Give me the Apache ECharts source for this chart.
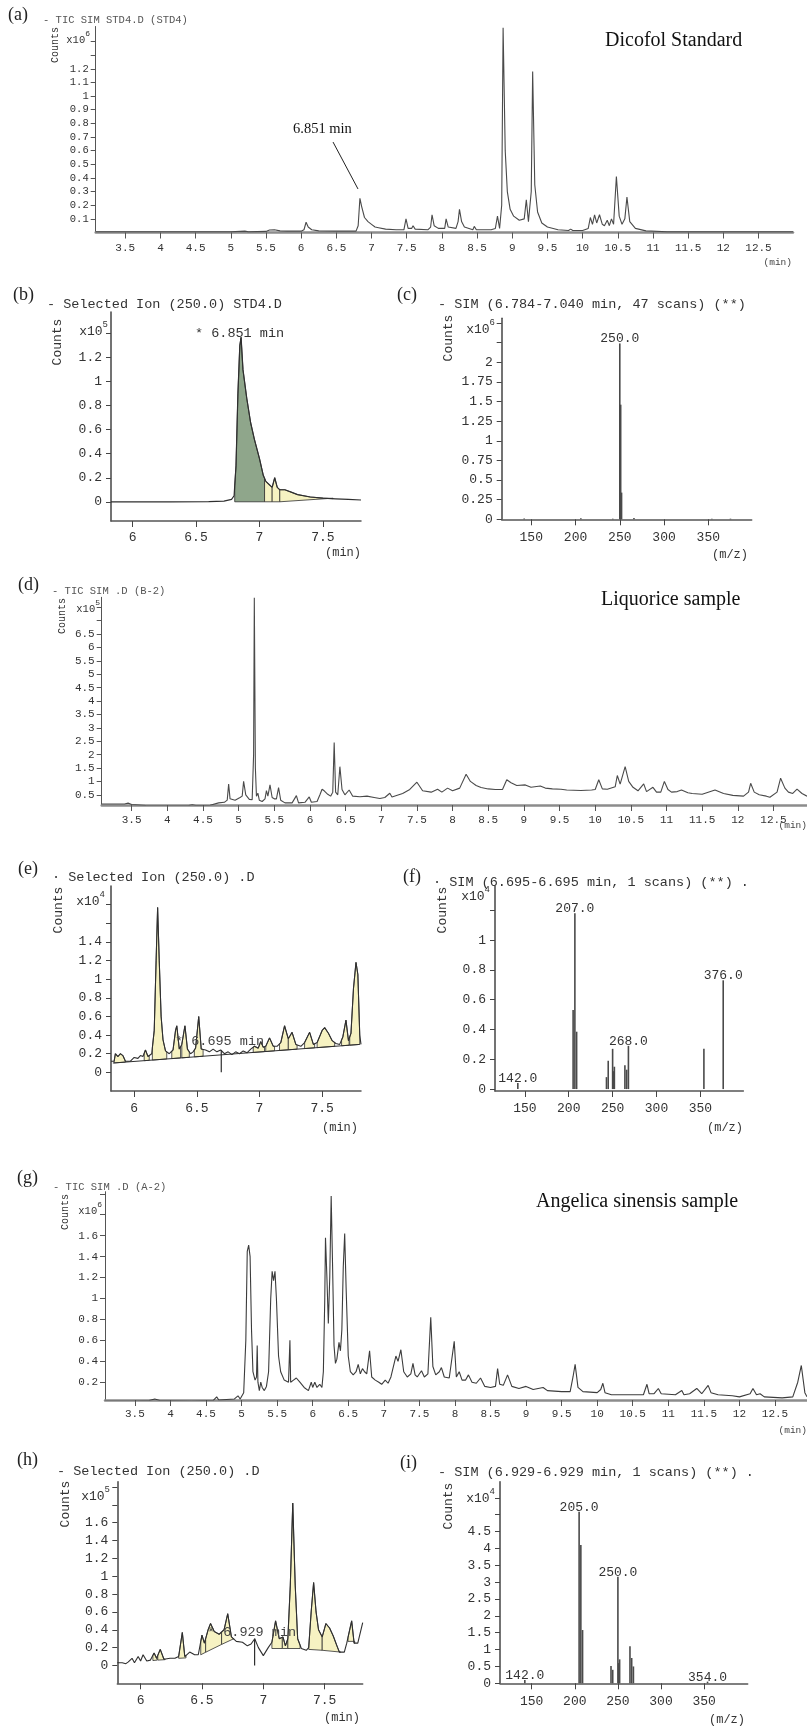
<!DOCTYPE html>
<html><head><meta charset="utf-8">
<script src="https://cdn.jsdelivr.net/npm/echarts@6/dist/echarts.min.js"></script>
<style>html,body{margin:0;padding:0;background:#fff}#c{width:807px;height:1730px}</style>
</head><body><div id="c"></div>
<script>
// ---------- DATA ----------
// (a) TIC of Dicofol standard, counts x10^6
const aTime = [3.08,4.5,5.0,5.2,5.25,5.5,5.55,5.62,5.7,5.8,6.0,6.04,6.07,6.1,6.15,6.25,6.5,6.78,6.81,6.835,6.86,6.9,6.95,7.0,7.05,7.07,7.1,7.2,7.35,7.46,7.49,7.52,7.57,7.59,7.62,7.8,7.84,7.86,7.89,7.95,8.04,8.06,8.09,8.2,8.23,8.25,8.28,8.32,8.44,8.46,8.49,8.7,8.76,8.79,8.82,8.85,8.87,8.9,8.93,8.97,9.02,9.1,9.17,9.2,9.23,9.27,9.29,9.32,9.36,9.42,9.5,9.65,9.8,9.83,9.86,10.0,10.08,10.11,10.14,10.17,10.2,10.24,10.28,10.31,10.35,10.38,10.41,10.44,10.48,10.52,10.56,10.6,10.63,10.67,10.75,10.9,11.2,12.99];
const aCounts = [0.005,0.005,0.006,0.01,0.006,0.008,0.018,0.02,0.012,0.01,0.01,0.02,0.075,0.04,0.02,0.012,0.01,0.01,0.05,0.25,0.19,0.11,0.08,0.06,0.04,0.048,0.035,0.025,0.02,0.02,0.1,0.03,0.03,0.05,0.025,0.02,0.04,0.13,0.05,0.03,0.03,0.1,0.04,0.03,0.08,0.17,0.08,0.04,0.02,0.045,0.02,0.02,0.03,0.12,0.03,0.2,1.5,0.6,0.3,0.17,0.12,0.09,0.1,0.24,0.08,0.3,1.18,0.35,0.15,0.07,0.04,0.02,0.015,0.025,0.015,0.015,0.03,0.11,0.06,0.13,0.07,0.13,0.06,0.05,0.09,0.05,0.1,0.06,0.41,0.12,0.06,0.1,0.26,0.08,0.03,0.012,0.006,0.005];
const aLeader = [[6.453,0.663],[6.808,0.319]];

// (b) Selected ion 250 of standard, counts x10^5
const bTime = [5.83,6.3,6.6,6.72,6.78,6.8,6.815,6.83,6.845,6.855,6.87,6.9,6.93,6.96,7.0,7.03,7.05,7.08,7.1,7.12,7.14,7.16,7.2,7.25,7.3,7.4,7.5,7.6,7.7,7.8];
const bCounts = [0.0,0.0,0.002,0.006,0.02,0.05,0.3,0.9,1.3,1.37,1.1,0.86,0.66,0.52,0.36,0.22,0.17,0.14,0.12,0.2,0.12,0.1,0.1,0.08,0.06,0.04,0.03,0.025,0.02,0.015];
const bShadeGreen = [[6.805,7.04,0,0]];
const bShadeYellow = [[7.04,7.1,0,0],[7.1,7.16,0,0],[7.16,7.58,0,0.03]];

// (c) SIM spectrum of standard, counts x10^6
const cMz = [142,206,242,250,251,252,266,354,375];
const cCounts = [0.01,0.012,0.008,2.24,1.46,0.34,0.015,0.008,0.008];
const cLabelMz = [250];

// (d) TIC of liquorice sample, counts x10^5
const dTime = [3.08,3.4,3.45,3.5,3.7,4.0,4.3,4.35,4.4,4.6,4.72,4.8,4.84,4.86,4.88,4.95,5.02,5.05,5.07,5.1,5.15,5.19,5.21,5.22,5.235,5.25,5.27,5.29,5.33,5.37,5.39,5.41,5.44,5.47,5.5,5.53,5.56,5.59,5.65,5.75,5.81,5.84,5.93,5.99,6.02,6.1,6.14,6.17,6.2,6.22,6.25,6.29,6.32,6.34,6.36,6.39,6.42,6.45,6.49,6.55,6.6,6.7,6.8,6.9,6.98,7.05,7.12,7.15,7.3,7.4,7.5,7.58,7.7,7.79,7.85,7.93,8.0,8.1,8.19,8.25,8.33,8.4,8.5,8.6,8.7,8.76,8.82,8.9,9.02,9.1,9.23,9.3,9.4,9.52,9.6,9.8,9.95,10.0,10.05,10.1,10.17,10.28,10.31,10.35,10.42,10.47,10.53,10.6,10.68,10.72,10.81,10.86,10.92,10.97,11.02,11.07,11.15,11.21,11.3,11.36,11.5,11.68,11.8,11.93,12.08,12.15,12.18,12.23,12.3,12.4,12.45,12.55,12.6,12.66,12.71,12.77,12.83,12.9,12.97];
const dCounts = [0.16,0.16,0.19,0.14,0.1,0.09,0.1,0.13,0.1,0.11,0.2,0.22,0.3,0.9,0.35,0.3,0.4,0.45,1.0,0.5,0.33,0.32,2.0,7.85,1.5,0.45,0.56,0.3,0.25,0.35,0.66,0.45,0.87,0.4,0.35,0.35,0.77,0.3,0.2,0.2,0.47,0.2,0.22,0.42,0.22,0.25,0.5,0.71,0.65,0.6,0.52,0.45,0.6,2.45,0.6,0.5,1.55,0.7,0.5,0.68,0.45,0.43,0.45,0.4,0.36,0.4,0.56,0.42,0.55,0.7,0.97,0.65,0.6,0.71,0.6,0.75,0.65,0.75,1.27,1.0,0.85,0.77,0.72,0.7,0.7,1.06,0.95,0.85,0.87,0.78,0.83,0.75,0.72,0.71,0.68,0.66,0.68,0.7,1.06,0.72,0.71,0.8,1.22,0.9,1.55,1.0,0.78,0.65,0.91,0.62,0.78,0.6,0.6,1.0,0.7,0.6,0.62,0.68,0.58,0.55,0.52,0.68,0.55,0.48,0.45,0.6,0.93,0.6,0.5,0.45,0.41,0.6,1.12,0.75,0.6,0.55,0.71,0.55,0.45];

// (e) Selected ion 250 of liquorice sample, counts x10^4
const eTime = [5.815,5.84,5.85,5.87,5.89,5.91,5.93,5.97,6.0,6.03,6.05,6.07,6.09,6.11,6.14,6.16,6.175,6.187,6.2,6.215,6.23,6.25,6.28,6.31,6.33,6.34,6.36,6.38,6.405,6.425,6.45,6.47,6.49,6.515,6.535,6.57,6.6,6.63,6.66,6.69,6.72,6.75,6.78,6.81,6.84,6.87,6.9,6.93,6.96,6.99,7.01,7.03,7.05,7.08,7.11,7.14,7.17,7.2,7.23,7.26,7.29,7.33,7.36,7.4,7.43,7.46,7.5,7.52,7.55,7.58,7.61,7.64,7.665,7.69,7.71,7.73,7.75,7.77,7.785,7.8,7.81];
const eCounts = [0.12,0.12,0.2,0.17,0.2,0.18,0.12,0.12,0.16,0.15,0.18,0.17,0.24,0.17,0.2,0.45,1.2,1.77,1.2,0.6,0.35,0.23,0.2,0.24,0.45,0.5,0.25,0.3,0.5,0.25,0.2,0.22,0.26,0.6,0.25,0.24,0.22,0.25,0.22,0.24,0.2,0.22,0.19,0.22,0.2,0.23,0.21,0.25,0.28,0.26,0.33,0.27,0.28,0.37,0.28,0.28,0.32,0.5,0.36,0.43,0.3,0.28,0.32,0.43,0.3,0.32,0.45,0.48,0.42,0.34,0.31,0.3,0.38,0.56,0.34,0.42,0.9,1.18,1.05,0.4,0.3];
const eBaseTime = [5.83,7.8];
const eBaseCounts = [0.10,0.30];
const eShadeRanges = [[5.84,5.93],[6.08,6.12],[6.145,6.26],[6.3,6.37],[6.38,6.44],[6.48,6.55],[6.95,7.04],[7.05,7.12],[7.16,7.23],[7.23,7.3],[7.36,7.44],[7.46,7.6],[7.655,7.715],[7.72,7.8]];
const eMarker = [[6.695,0.24],[6.695,0.0]];

// (f) SIM spectrum at 6.695 min, counts x10^4
const fMz = [142,205,207,209,243,245,250,251,252,264,266,268,354,376];
const fCounts = [0.04,0.53,1.18,0.385,0.08,0.19,0.27,0.12,0.15,0.16,0.13,0.29,0.27,0.73];
const fLabelMz = [142,207,268,376];

// (g) TIC of Angelica sinensis sample, counts x10^6
const gTime = [3.08,3.5,3.7,3.78,3.85,4.3,4.6,4.65,4.68,4.9,4.95,4.98,5.03,5.06,5.08,5.1,5.12,5.14,5.16,5.19,5.21,5.22,5.23,5.25,5.27,5.29,5.32,5.35,5.38,5.41,5.43,5.45,5.47,5.49,5.52,5.55,5.6,5.66,5.68,5.69,5.73,5.77,5.82,5.88,5.94,5.98,6.0,6.03,6.06,6.1,6.13,6.15,6.17,6.18,6.2,6.22,6.24,6.26,6.28,6.3,6.32,6.34,6.37,6.39,6.41,6.43,6.45,6.47,6.5,6.53,6.57,6.61,6.64,6.67,6.7,6.73,6.76,6.8,6.83,6.88,6.93,6.97,7.02,7.06,7.1,7.17,7.2,7.24,7.28,7.33,7.38,7.41,7.44,7.47,7.53,7.57,7.62,7.66,7.69,7.73,7.78,7.81,7.85,7.92,7.99,8.02,8.06,8.1,8.15,8.19,8.24,8.3,8.36,8.42,8.5,8.57,8.6,8.63,8.68,8.74,8.8,8.9,9.0,9.1,9.24,9.3,9.5,9.62,9.66,9.69,9.73,9.8,10.0,10.05,10.08,10.11,10.2,10.5,10.65,10.7,10.73,10.8,10.86,10.9,11.1,11.19,11.22,11.3,11.4,11.47,11.56,11.6,11.7,11.9,12.0,12.15,12.19,12.24,12.29,12.35,12.6,12.75,12.82,12.87,12.92,12.95];
const gCounts = [0.02,0.02,0.025,0.04,0.025,0.02,0.025,0.06,0.03,0.04,0.07,0.04,0.1,0.6,1.45,1.51,1.4,0.7,0.3,0.22,0.25,0.55,0.2,0.12,0.2,0.15,0.12,0.16,0.3,1.0,1.26,1.17,1.26,1.0,0.45,0.3,0.22,0.2,0.6,0.2,0.22,0.24,0.2,0.15,0.12,0.2,0.15,0.2,0.15,0.18,0.15,0.3,1.0,1.58,1.2,0.76,1.2,1.98,1.3,0.55,0.38,0.42,0.58,0.5,0.7,1.3,1.62,1.1,0.45,0.3,0.27,0.3,0.37,0.28,0.33,0.3,0.28,0.5,0.25,0.22,0.2,0.18,0.22,0.19,0.25,0.45,0.4,0.51,0.3,0.25,0.28,0.38,0.27,0.25,0.31,0.25,0.28,0.82,0.35,0.27,0.3,0.34,0.25,0.24,0.59,0.25,0.3,0.22,0.22,0.27,0.2,0.19,0.24,0.16,0.15,0.16,0.33,0.18,0.17,0.27,0.16,0.14,0.16,0.13,0.15,0.12,0.11,0.11,0.25,0.37,0.15,0.11,0.1,0.13,0.19,0.1,0.08,0.08,0.08,0.18,0.09,0.09,0.14,0.09,0.08,0.12,0.08,0.09,0.14,0.09,0.17,0.1,0.08,0.07,0.06,0.09,0.14,0.08,0.09,0.06,0.05,0.06,0.2,0.36,0.1,0.06];

// (h) Selected ion 250 of Angelica sinensis sample, counts x10^5
const hTime = [5.81,5.85,5.88,5.9,5.93,5.95,5.98,6.0,6.02,6.05,6.08,6.11,6.13,6.16,6.19,6.24,6.28,6.31,6.34,6.36,6.4,6.44,6.47,6.5,6.52,6.55,6.57,6.6,6.64,6.68,6.71,6.74,6.78,6.83,6.87,6.9,6.93,6.96,7.0,7.04,7.07,7.1,7.13,7.16,7.18,7.2,7.22,7.24,7.26,7.28,7.31,7.35,7.37,7.39,7.41,7.43,7.45,7.48,7.51,7.54,7.57,7.6,7.62,7.66,7.68,7.72,7.74,7.77,7.81];
const hCounts = [0.03,0.03,0.02,0.04,0.08,0.03,0.1,0.05,0.12,0.05,0.06,0.14,0.08,0.18,0.07,0.08,0.08,0.1,0.37,0.1,0.15,0.12,0.12,0.34,0.25,0.4,0.47,0.38,0.35,0.4,0.58,0.32,0.27,0.26,0.22,0.24,0.3,0.2,0.11,0.2,0.26,0.5,0.3,0.32,0.22,0.3,0.9,1.82,0.9,0.3,0.19,0.17,0.2,0.6,0.93,0.6,0.4,0.32,0.47,0.42,0.33,0.22,0.15,0.15,0.25,0.5,0.25,0.25,0.48];
const hShade = [[6.1,6.135,0.055,0.06],[6.14,6.2,0.06,0.065],[6.31,6.37,0.08,0.085],[6.49,6.53,0.12,0.148],[6.53,6.66,0.148,0.236],[6.66,6.76,0.236,0.3],[7.07,7.155,0.19,0.19],[7.155,7.2,0.19,0.19],[7.2,7.3,0.19,0.19],[7.37,7.48,0.18,0.17],[7.48,7.63,0.17,0.15],[7.69,7.745,0.27,0.27]];
const hMarker = [[6.929,0.3],[6.929,0.0]];

// (i) SIM spectrum at 6.929 min, counts x10^4
const iMz = [142,205,207,209,242,244,250,251,252,264,266,268,354];
const iCounts = [0.1,5.09,4.1,1.58,0.51,0.4,3.16,0.6,0.71,1.1,0.75,0.5,0.05];
const iLabelMz = [142,205,250,354];

// tick values / labels
const ticMinTicks = [3.5,4,4.5,5,5.5,6,6.5,7,7.5,8,8.5,9,9.5,10,10.5,11,11.5,12,12.5];
const rtTicks = [6,6.5,7,7.5];
const mzTicks = [150,200,250,300,350];
const aYTicks = [0.1,0.2,0.3,0.4,0.5,0.6,0.7,0.8,0.9,1,1.1,1.2,1.3,1.4];
const aYLabels = [0.1,0.2,0.3,0.4,0.5,0.6,0.7,0.8,0.9,1,1.1,1.2];
const bYTicks = [0,0.2,0.4,0.6,0.8,1,1.2,1.4];
const bYLabels = [0,0.2,0.4,0.6,0.8,1,1.2];
const cYTicks = [0,0.25,0.5,0.75,1,1.25,1.5,1.75,2,2.25,2.5];
const cYLabels = [0,0.25,0.5,0.75,1,1.25,1.5,1.75,2];
const dYTicks = [0.5,1,1.5,2,2.5,3,3.5,4,4.5,5,5.5,6,6.5,7,7.5];
const dYLabels = [0.5,1,1.5,2,2.5,3,3.5,4,4.5,5,5.5,6,6.5];
const eYTicks = [0,0.2,0.4,0.6,0.8,1,1.2,1.4,1.6,1.8];
const eYLabels = [0,0.2,0.4,0.6,0.8,1,1.2,1.4];
const fYTicks = [0,0.2,0.4,0.6,0.8,1,1.2];
const fYLabels = [0,0.2,0.4,0.6,0.8,1];
const gYTicks = [0.2,0.4,0.6,0.8,1,1.2,1.4,1.6,1.8,2.0];
const gYLabels = [0.2,0.4,0.6,0.8,1,1.2,1.4,1.6];
const hYTicks = [0,0.2,0.4,0.6,0.8,1,1.2,1.4,1.6,1.8,2.0];
const hYLabels = [0,0.2,0.4,0.6,0.8,1,1.2,1.4,1.6];
const iYTicks = [0,0.5,1,1.5,2,2.5,3,3.5,4,4.5,5,5.5];
const iYLabels = [0,0.5,1,1.5,2,2.5,3,3.5,4,4.5];

// ---------- BUILD ----------
const MONO = "'Liberation Mono','DejaVu Sans Mono',monospace";
const SERIF = "'Liberation Serif','DejaVu Serif',serif";
const zip = (a,b)=>a.map((v,i)=>[v,b[i]]);
function interp(xs, ys, x){
  for(let k=0;k<xs.length-1;k++){
    if(x>=xs[k] && x<=xs[k+1]){const t=(x-xs[k])/(xs[k+1]-xs[k]);return ys[k]+t*(ys[k+1]-ys[k]);}
  }
  return x<xs[0]?ys[0]:ys[ys.length-1];
}

const panels = [
 {grid:{left:95.7,top:26.5,width:697.3,height:206}, x:[3.08,12.99], y:[0,1.51], xt:ticMinTicks, yt:aYTicks, yl:aYLabels, xf:11, yf:10.5, xm:10, ym:7, big:true},
 {grid:{left:111,top:312,width:250,height:209}, x:[5.83,7.8], y:[-0.16,1.58], xt:rtTicks, yt:bYTicks, yl:bYLabels, xf:13, yf:13, xm:10, ym:9},
 {grid:{left:501.7,top:318.3,width:250,height:201}, x:[116.6,399], y:[0,2.56], xt:mzTicks, yt:cYTicks, yl:cYLabels, xf:13, yf:13, xm:12, ym:9},
 {grid:{left:101.7,top:597.3,width:705.3,height:207.7}, x:[3.08,12.97], y:[0.12,7.87], xt:ticMinTicks, yt:dYTicks, yl:dYLabels, xf:11, yf:11, xm:10, ym:7, big:true},
 {grid:{left:111,top:886,width:250,height:205}, x:[5.815,7.81], y:[-0.2,2.0], xt:rtTicks, yt:eYTicks, yl:eYLabels, xf:13, yf:13, xm:11, ym:9},
 {grid:{left:495,top:886,width:248.4,height:205}, x:[116,399], y:[-0.013,1.363], xt:mzTicks, yt:fYTicks, yl:fYLabels, xf:13, yf:13, xm:11, ym:9},
 {grid:{left:105,top:1191.7,width:702,height:208.3}, x:[3.08,12.95], y:[0.03,2.02], xt:ticMinTicks, yt:gYTicks, yl:gYLabels, xf:11, yf:11, xm:9, ym:7, big:true},
 {grid:{left:117.3,top:1481.7,width:245.4,height:201.6}, x:[5.81,7.81], y:[-0.2,2.06], xt:rtTicks, yt:hYTicks, yl:hYLabels, xf:13, yf:13, xm:11, ym:9},
 {grid:{left:500,top:1481.7,width:247.7,height:201.6}, x:[113.2,400.6], y:[0,5.98], xt:mzTicks, yt:iYTicks, yl:iYLabels, xf:13, yf:13, xm:12, ym:9}
];

const grids=[], xAxes=[], yAxes=[];
panels.forEach((p,i)=>{
  grids.push(Object.assign({show:false, containLabel:false, outerBoundsMode:'none'}, p.grid));
  const axCol = p.big ? '#555' : '#444';
  xAxes.push({type:'value', gridIndex:i, min:p.x[0], max:p.x[1],
    axisLine:{show:true, onZero:false, lineStyle:{color:p.big?'#8c8c8c':'#555', width:p.big?2.5:1.5}},
    axisTick:{show:true, customValues:p.xt, length:p.big?6:6, lineStyle:{color:axCol, width:1}},
    axisLabel:{show:true, customValues:p.xt, formatter:v=>String(v), fontFamily:MONO, fontSize:p.xf, color:'#333', margin:p.xm},
    splitLine:{show:false}});
  yAxes.push({type:'value', gridIndex:i, min:p.y[0], max:p.y[1],
    axisLine:{show:true, onZero:false, lineStyle:{color:axCol, width:p.big?1:1.5}},
    axisTick:{show:true, customValues:p.yt, length:5, lineStyle:{color:axCol, width:1}},
    axisLabel:{show:true, customValues:p.yl, formatter:v=>String(v), fontFamily:MONO, fontSize:p.yf, color:'#333', margin:p.ym},
    splitLine:{show:false}});
});

function lineSeries(i, data, color, width, z){
  return {type:'line', xAxisIndex:i, yAxisIndex:i, data:data, showSymbol:false, symbol:'none', silent:true,
    lineStyle:{color:color||'#3c3c3c', width:width||1}, z:z||3, animation:false};
}
function shadeSeries(i, xs, ys, segs, color){
  return {type:'custom', xAxisIndex:i, yAxisIndex:i, z:1, silent:true, animation:false,
    data: segs.map(s=>[s[0],s[2]]), encode:{x:0,y:1},
    renderItem:(params, api)=>{
      const s=segs[params.dataIndex];
      const pts=[[s[0],interp(xs,ys,s[0])]];
      xs.forEach((x,k)=>{ if(x>s[0] && x<s[1]) pts.push([x,ys[k]]); });
      pts.push([s[1],interp(xs,ys,s[1])]);
      pts.push([s[1],s[3]]); pts.push([s[0],s[2]]);
      return {type:'polygon', shape:{points:pts.map(q=>api.coord(q))}, style:{fill:color, stroke:'#2f2f2f', lineWidth:0.8}};
    }};
}
function specSeries(i, mz, cnt, labMz){
  return {type:'custom', xAxisIndex:i, yAxisIndex:i, z:3, silent:true, animation:false,
    data: zip(mz,cnt), encode:{x:0,y:1},
    renderItem:(params, api)=>{
      const m=api.value(0), v=api.value(1);
      const p0=api.coord([m,0]), p1=api.coord([m,v]);
      const ch=[{type:'line', shape:{x1:p0[0],y1:p0[1],x2:p1[0],y2:p1[1]}, style:{stroke:'#4a4a4a', lineWidth:1.6}}];
      if(labMz.indexOf(m)>=0) ch.push({type:'text', x:p1[0], y:p1[1]+2, style:{text:m.toFixed(1), fontSize:13, fontFamily:MONO, fill:'#333', align:'center', verticalAlign:'bottom'}});
      return {type:'group', children:ch};
    }};
}

const eShadeSegs = eShadeRanges.map(r=>[r[0],r[1],interp(eBaseTime,eBaseCounts,r[0]),interp(eBaseTime,eBaseCounts,r[1])]);

const series = [
  lineSeries(0, zip(aTime,aCounts), '#4a4a4a', 1.1),
  lineSeries(0, aLeader, '#222', 1),
  shadeSeries(1, bTime, bCounts, bShadeGreen, '#8fa68b'),
  shadeSeries(1, bTime, bCounts, bShadeYellow, '#f6f2c2'),
  lineSeries(1, zip(bTime,bCounts), '#2f2f2f', 1.2),
  specSeries(2, cMz, cCounts, cLabelMz),
  lineSeries(3, zip(dTime,dCounts), '#4a4a4a', 1.1),
  shadeSeries(4, eTime, eCounts, eShadeSegs, '#f6f2c2'),
  lineSeries(4, zip(eTime,eCounts), '#2f2f2f', 1.1),
  lineSeries(4, zip(eBaseTime,eBaseCounts), '#2f2f2f', 1),
  lineSeries(4, eMarker, '#2f2f2f', 1.2),
  specSeries(5, fMz, fCounts, fLabelMz),
  lineSeries(6, zip(gTime,gCounts), '#3c3c3c', 1.1),
  shadeSeries(7, hTime, hCounts, hShade, '#f6f2c2'),
  lineSeries(7, zip(hTime,hCounts), '#2f2f2f', 1.1),
  lineSeries(7, hMarker, '#2f2f2f', 1.2),
  specSeries(8, iMz, iCounts, iLabelMz)
];

// ---------- TEXT ----------
const G = [];
function T(x,y,text,size,family,align,color,extra){
  G.push(Object.assign({type:'text', x:x, y:y, silent:true, z:10,
    style:{text:text, fontSize:size, fontFamily:family, fill:color||'#222', align:align||'left', verticalAlign:'middle'}}, extra||{}));
}
function pow(x,y,exp,size){
  G.push({type:'text', x:x, y:y, silent:true, z:10, style:{text:'{b|x10}{s|'+exp+'}', align:'right', verticalAlign:'middle',
    rich:{b:{fontSize:size, fontFamily:MONO, fill:'#333', color:'#333', verticalAlign:'bottom', lineHeight:size+5},
          s:{fontSize:Math.round(size*0.72), fontFamily:MONO, fill:'#333', color:'#333', verticalAlign:'top', lineHeight:size+5}}}});
}
function counts(x,y,size){ T(x,y,'Counts',size,MONO,'center','#333',{rotation:Math.PI/2}); }

// panel letters
T(8,15,'(a)',18,SERIF); T(13,295,'(b)',18,SERIF); T(397,295,'(c)',18,SERIF);
T(18,585,'(d)',18,SERIF); T(18,869,'(e)',18,SERIF); T(403,877,'(f)',18,SERIF);
T(17,1178,'(g)',18,SERIF); T(17,1460,'(h)',18,SERIF); T(400,1463,'(i)',18,SERIF);
// titles
T(43,20,'- TIC SIM STD4.D (STD4)',10.5,MONO,'left','#555');
T(47,304,'- Selected Ion (250.0) STD4.D',13.5,MONO,'left','#333');
T(438,304,'- SIM (6.784-7.040 min, 47 scans) (**)',13.5,MONO,'left','#333');
T(52,591,'- TIC SIM .D (B-2)',10.5,MONO,'left','#555');
T(52,877,'\u00B7 Selected Ion (250.0) .D',13.5,MONO,'left','#333');
T(433,882,'\u00B7 SIM (6.695-6.695 min, 1 scans) (**) .',13.5,MONO,'left','#333');
T(53,1187,'- TIC SIM .D (A-2)',10.5,MONO,'left','#555');
T(57,1471,'- Selected Ion (250.0) .D',13.5,MONO,'left','#333');
T(438,1472,'- SIM (6.929-6.929 min, 1 scans) (**) .',13.5,MONO,'left','#333');
// sample names
T(605,41,'Dicofol Standard',20,SERIF,'left','#111');
T(601,600,'Liquorice sample',20,SERIF,'left','#111');
T(536,1202,'Angelica sinensis sample',20,SERIF,'left','#111');
// annotations
T(293,129,'6.851 min',14.5,SERIF,'left','#111');
T(195,333,'* 6.851 min',13.5,MONO,'left','#333');
T(175,1041,'* 6.695 min',13.5,MONO,'left','#444');
T(207,1632,'* 6.929 min',13.5,MONO,'left','#444');
// axis unit labels
T(792,262,'(min)',9.5,MONO,'right','#444');
T(361,553,'(min)',12,MONO,'right','#333');
T(748,555,'(m/z)',12,MONO,'right','#333');
T(807,825,'(min)',9.5,MONO,'right','#444');
T(358,1128,'(min)',12,MONO,'right','#333');
T(743,1128,'(m/z)',12,MONO,'right','#333');
T(807,1430,'(min)',9.5,MONO,'right','#444');
T(360,1718,'(min)',12,MONO,'right','#333');
T(745,1720,'(m/z)',12,MONO,'right','#333');
// Counts
counts(55,45,10); counts(58,342,13); counts(449,338,13);
counts(62,616,10); counts(59,910,13); counts(443,910,13);
counts(65,1212,10); counts(66,1504,13); counts(449,1506,13);
// exponents
pow(90,37.5,'6',10.5); pow(108,329,'5',13); pow(495,327,'6',13);
pow(100,607,'5',10.5); pow(105,899,'4',13); pow(490,894,'4',13);
pow(102,1209,'6',10.5); pow(110,1494,'5',13); pow(495,1496,'4',13);

const chart = echarts.init(document.getElementById('c'), null, {renderer:'canvas'});
chart.setOption({
  animation:false, backgroundColor:'#fff',
  textStyle:{fontFamily:MONO},
  grid:grids, xAxis:xAxes, yAxis:yAxes, series:series, graphic:G
});
</script></body></html>
